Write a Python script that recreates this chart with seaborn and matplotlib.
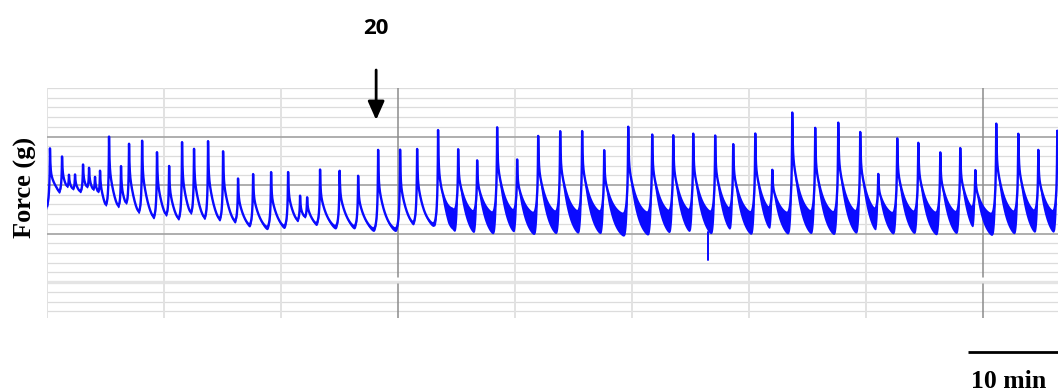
import numpy as np
import pandas as pd
import matplotlib
matplotlib.use("Agg")
import matplotlib.pyplot as plt
import matplotlib.transforms as mtransforms
import seaborn as sns

# ---------------- data ----------------
# contraction peaks: time (min) and peak force (g)
peak_time = [0.33, 1.67, 2.44, 3.11, 4.00, 4.67, 5.33, 5.89, 6.89, 8.22, 9.11,
             10.56, 12.22, 13.56, 15.00, 16.33, 17.89, 19.56, 21.22, 22.89,
             24.89, 26.78, 28.11, 28.89, 30.33, 32.50, 34.56, 36.78, 39.22,
             41.11, 43.44, 45.67, 47.78, 50.00, 52.22, 54.56, 57.00, 59.44,
             61.89, 64.56, 67.22, 69.56, 71.78, 74.22, 76.22, 78.67, 80.56,
             82.78, 85.33, 87.89, 90.33, 92.33, 94.44, 96.78, 99.22, 101.44,
             103.11, 105.44, 107.89, 110.11, 112.22]
peak_force = [3.78, 3.45, 2.94, 3.00, 3.27, 3.10, 2.90, 3.04, 3.80, 3.16, 3.58,
              3.76, 3.56, 3.21, 3.72, 3.52, 3.74, 3.58, 3.00, 3.16,
              3.21, 3.23, 2.61, 2.55, 3.23, 3.28, 3.14, 3.68, 3.68,
              3.66, 4.09, 3.66, 3.45, 4.15, 3.47, 4.03, 4.11, 4.09,
              3.66, 4.18, 4.05, 3.99, 3.99, 3.97, 3.80, 4.03, 3.23,
              4.48, 4.11, 4.26, 4.09, 3.14, 3.95, 3.87, 3.66, 3.74,
              3.21, 4.24, 4.05, 3.64, 4.05]

# resting (trough) level of the trace between contractions
base_time = [0.0, 1.0, 2.0, 4.0, 5.5, 6.5, 8.0, 9.0, 10.2, 12.0, 14.0, 20.0,
             26.0, 29.5, 33.0, 38.0, 42.0, 43.8, 45.0, 60.0, 112.3]
base_force = [2.50, 2.62, 2.58, 2.60, 2.48, 2.22, 2.16, 2.10, 2.06, 2.02, 1.99,
              1.98, 1.98, 2.02, 2.02, 1.96, 2.02, 2.08, 2.30, 2.32, 2.30]

# depth of the noisy band below the trace
band_time = [0.0, 43.0, 44.5, 112.3]
band_depth = [0.07, 0.07, 0.50, 0.50]

# single downward artefact
artifact_time = [73.44]
artifact_force = [1.45]

marker_time = 36.56
marker_label = "20"
scale_minutes = 10
ylabel = "Force (g)"
scale_label = "10 min"

x_max = 112.3
y_min, y_max = 0.26, 5.0

# ---------------- figure ----------------
sns.set_theme(style="white")
plt.rcParams["font.family"] = ["DejaVu Sans"]
plt.rcParams["text.color"] = "black"

W, H = 1058, 392
fig = plt.figure(figsize=(W / 100, H / 100), dpi=100)
ax = fig.add_axes([47 / W, 74 / H, 1011 / W, 230 / H])
ax.set_xlim(0, x_max)
ax.set_ylim(y_min, y_max)
for s in ax.spines.values():
    s.set_visible(False)
ax.set_xticks([])
ax.set_yticks([])

# grid (chart-recorder paper)
for k in range(2, 25):
    yv = k * 0.2
    if abs(yv - round(yv)) < 1e-6:
        continue
    ax.axhline(yv, color="#dcdcdc", lw=0.9, zorder=0)
ax.axhline(1.0, color="#e4e4e4", lw=2.4, zorder=0)
ax.axhline(5.0, color="#dcdcdc", lw=0.9, zorder=0)
for yv in (2.0, 3.0, 4.0):
    ax.axhline(yv, color="#a8a8a8", lw=1.3, zorder=0.5)
for k in range(0, 9):
    xv = 13.0 * k
    if k in (3, 8):
        ax.axvline(xv, ymin=(1.1 - y_min) / (y_max - y_min), ymax=1,
                   color="#8c8c8c", lw=1.1, zorder=0.6)
        ax.axvline(xv, ymin=0, ymax=(0.97 - y_min) / (y_max - y_min),
                   color="#8c8c8c", lw=1.1, zorder=0.6)
    else:
        ax.axvline(xv, color="#e2e2e2", lw=1.4, zorder=0.2)

# ---------------- trace ----------------
t = np.linspace(0, x_max, 14000)
base = np.interp(t, base_time, base_force)
twitch = np.zeros_like(t)
envelope = np.zeros_like(t)
for tp, fp in zip(peak_time, peak_force):
    dt = t - tp
    shape = np.where(dt >= 0,
                     0.38 * np.exp(-dt / 0.05) + 0.62 * np.exp(-dt / 0.85),
                     0.38 * np.exp(dt / 0.03) + 0.62 * np.exp(dt / 0.13))
    amp = fp - np.interp(tp, base_time, base_force)
    twitch += amp * shape
    envelope = np.maximum(envelope, shape)
upper = base + twitch
depth = np.interp(t, band_time, band_depth) * np.clip(1 - 1.5 * envelope, 0, 1)
lower = upper - depth

blue = "#0a0aff"
ax.fill_between(t, lower, upper, color=blue, lw=0, zorder=2)
df = pd.DataFrame({"time": t, "force": upper})
sns.lineplot(data=df, x="time", y="force", ax=ax, color=blue, lw=1.7,
             estimator=None, sort=False, zorder=3)
for at, af in zip(artifact_time, artifact_force):
    y0 = float(np.interp(at, t, lower))
    sns.lineplot(x=[at, at], y=[y0, af], ax=ax, color=blue, lw=1.4,
                 estimator=None, sort=False, zorder=3)
ax.set_xlabel("")
ax.set_ylabel("")

# ---------------- annotations ----------------
blend = mtransforms.blended_transform_factory(ax.transData, fig.transFigure)
ax.annotate("", xy=(marker_time, 1 - 120 / H), xycoords=blend,
            xytext=(marker_time, 1 - 70 / H), textcoords=blend,
            arrowprops=dict(arrowstyle="-|>,head_length=0.45,head_width=0.2",
                            color="black", lw=2.0, mutation_scale=25,
                            shrinkA=0, shrinkB=0))
ax.text(marker_time, 1 - 28 / H, marker_label, transform=blend,
        ha="center", va="center", fontsize=16, fontweight="bold",
        color="black", family=["Open Sans", "DejaVu Sans"])

fig.text(25 / W, 1 - 187 / H, ylabel, rotation=90, ha="center", va="center",
         fontsize=19, fontweight="bold", color="black",
         family=["Liberation Serif"])

ax.plot([x_max - scale_minutes, x_max], [1 - 352 / H, 1 - 352 / H],
        transform=blend, color="black", lw=2.0, clip_on=False,
        solid_capstyle="butt")
ax.text(x_max - scale_minutes / 2 - 0.45, 1 - 388 / H, scale_label,
        transform=blend, ha="center", va="baseline", fontsize=18.5,
        fontweight="bold", color="black", family=["Liberation Serif"])

fig.savefig("out.png", dpi=100)
